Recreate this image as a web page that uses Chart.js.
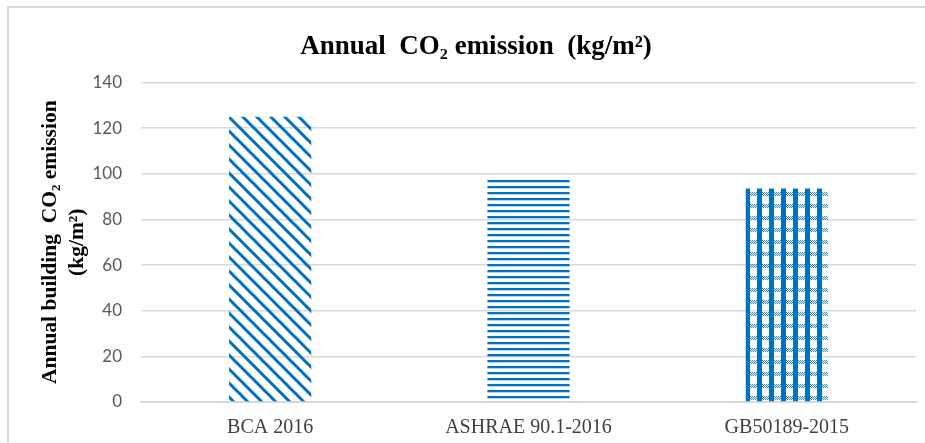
<!DOCTYPE html>
<html>
<head>
<meta charset="utf-8">
<script src="https://cdn.jsdelivr.net/npm/chart.js@4/dist/chart.umd.min.js"></script>
<style>
  body { margin: 0; background: #fff; }
  #wrap { position: relative; width: 925px; height: 443px; }
  #frame { position: absolute; left: 7px; top: 6px; width: 930px; height: 450px;
           border: 2px solid #d9d9d9; box-sizing: border-box; pointer-events: none; }
</style>
</head>
<body>
<div id="wrap">
  <canvas id="chart" width="925" height="443"></canvas>
  <div id="frame"></div>
</div>
<script>
// ----------------------------------------------------------------------
const categories = ["BCA 2016", "ASHRAE 90.1-2016", "GB50189-2015"]
const emission = [125, 98, 93.5]
const y_ticks = [0, 20, 40, 60, 80, 100, 120, 140]

const blue = "#0070c0"

// ----------------------------------------------------------------------
function tile (w, h, draw)
{
	const cv = document.createElement("canvas")
	cv.width = w
	cv.height = h
	const cx = cv.getContext("2d")
	draw(cx)
	return document.getElementById("chart").getContext("2d").createPattern(cv, "repeat")
}

// diagonal stripes  \\\
const pat_diag = tile(14, 14, function (cx)
	{
	cx.strokeStyle = blue
	cx.lineWidth = 3
	cx.beginPath()
	cx.moveTo(-2, -2); cx.lineTo(16, 16)
	cx.moveTo(-9, 5); cx.lineTo(9, 23)
	cx.moveTo(5, -9); cx.lineTo(23, 9)
	cx.stroke()
	})

// horizontal stripes
const pat_horiz = tile(8, 6, function (cx)
	{
	cx.fillStyle = blue
	cx.fillRect(0, 0, 8, 2)
	cx.fillStyle = "rgba(0,112,192,0.3)"
	cx.fillRect(0, 2, 8, 1)
	})

// checker / weave
const pat_check = tile(12, 12, function (cx)
	{
	cx.fillStyle = blue
	cx.fillRect(1, 0, 5, 12)
	cx.fillStyle = "rgba(0,112,192,0.8)"
	for (let x = 0; x < 12; x++)
		{
		for (let y = 0; y < 4; y++)
			{
			if ((x + y) % 2 == 0) cx.fillRect(x, y, 1, 1)
			}
		}
	})

// ----------------------------------------------------------------------
const config = {
	type: 'bar',
	data: {
		labels: categories,
		datasets: [{
			data: emission,
			backgroundColor: [pat_diag, pat_horiz, pat_check],
			borderWidth: 0,
			barPercentage: 0.318,
			categoryPercentage: 1.0
		}]
	},
	options: {
		responsive: false,
		animation: false,
		layout: { padding: { left: 36, right: 9, top: 16, bottom: 0 } },
		plugins: {
			legend: { display: false },
			tooltip: { enabled: false },
			title: {
				display: true,
				text: "Annual  CO\u2082 emission  (kg/m\u00b2)",
				color: "#000",
				font: { family: "Liberation Serif", size: 27, weight: "bold" },
				padding: { top: 15, bottom: 19 }
			}
		},
		scales: {
			x: {
				grid: { display: false },
				border: { display: true, color: "#d9d9d9", width: 2 },
				afterFit: function (s) { s.height = 41 },
				ticks: {
					color: "#404040",
					padding: 6,
					font: { family: "Liberation Serif", size: 20 }
				}
			},
			y: {
				min: 0,
				max: 140,
				afterBuildTicks: function (s) { s.ticks = y_ticks.map(v => ({ value: v })) },
				afterFit: function (s) { s.width = 105 },
				grid: { color: "#d9d9d9", lineWidth: 1.5, drawTicks: false },
				border: { display: false },
				ticks: {
					color: "#595959",
					padding: 19,
					font: { family: "Lato", size: 17 }
				},
				title: {
					display: true,
					text: ["Annual building  CO\u2082 emission", "(kg/m\u00b2)"],
					color: "#000",
					font: { family: "Liberation Serif", size: 21.5, weight: "bold", lineHeight: 1.3 },
					padding: 0
				}
			}
		}
	}
}

const chart = new Chart(document.getElementById("chart"), config)
</script>
</body>
</html>
